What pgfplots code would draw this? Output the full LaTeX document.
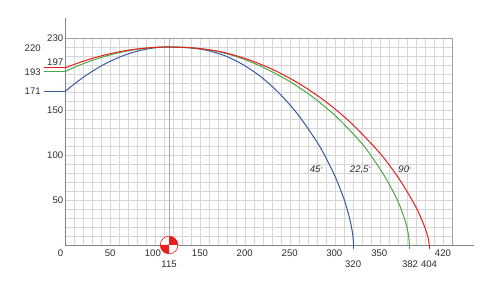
\documentclass[border=0pt]{standalone}
\usepackage{pgfplots}
\pgfplotsset{compat=1.18}
\usepackage{fontspec}
\setmainfont{Liberation Sans}
\definecolor{cblue}{RGB}{58,88,168}
\definecolor{cgreen}{RGB}{76,168,68}
\definecolor{cred}{RGB}{232,30,30}
\definecolor{axisgray}{RGB}{128,132,148}
\definecolor{bordergray}{RGB}{160,160,160}
\definecolor{gridgray}{RGB}{214,214,214}
\definecolor{txt}{RGB}{45,45,45}
\tikzset{xl/.style={txt, inner sep=0pt}, yl/.style={txt, inner sep=0pt, anchor=east}}
\pgfdeclareplotmark{cog}{%
  \pgfsetfillcolor{white}\pgfsetstrokecolor{cred}\pgfsetlinewidth{0.6bp}%
  \pgfpathcircle{\pgfpointorigin}{8.8bp}\pgfusepath{fill,stroke}%
  \pgfsetfillcolor{cred}%
  \pgfpathmoveto{\pgfpointorigin}\pgfpathlineto{\pgfpoint{8.8bp}{0bp}}%
  \pgfpatharc{0}{90}{8.8bp}\pgfpathclose\pgfusepath{fill}%
  \pgfpathmoveto{\pgfpointorigin}\pgfpathlineto{\pgfpoint{-8.8bp}{0bp}}%
  \pgfpatharc{180}{270}{8.8bp}\pgfpathclose\pgfusepath{fill}%
}
\begin{document}
\fontsize{9.6}{11}\selectfont
\begin{tikzpicture}
\path[use as bounding box] (-65.6bp,-39bp) rectangle (422.4bp,245bp);
\begin{axis}[
  x=0.9bp, y=0.9bp,
  xmin=0, xmax=430, ymin=0, ymax=230,
  clip=false,
  xtick={0,10,...,430}, ytick={0,10,...,230},
  xticklabels={}, yticklabels={},
  major tick length=0pt,
  grid=major,
  grid style={gridgray, line width=0.6bp},
  axis line style={bordergray, line width=0.8bp},
  every axis plot/.append style={line width=1bp},
]
% darker grid line at 115
\draw[gray!65, line width=0.7bp] (axis cs:115,0) -- (axis cs:115,230);
% main axis lines
\draw[axisgray, line width=0.9bp] (axis cs:0,252) -- (axis cs:0,0) -- (axis cs:454,0);

% blue 45
\addplot[cblue] coordinates {(-24,171)(0,171)};
\addplot[cblue, smooth] coordinates {
(0,171)(10,179.15)(20,186.56)(30,193.23)(40,199.16)(50,204.35)(60,208.79)(70,212.50)(80,215.46)(90,217.68)(100,219.17)(110,219.91)(115,220)
(135.5,219.3)(156,216.5)(176.5,210.5)(197,200.5)(217.5,186.5)(238,168)(258.5,144.5)(279,115)(289.25,97)(299.5,76)(309.75,50)(315.9,28)(318.98,12)(320,0)};
\addplot[cblue] coordinates {(320,0)(320,-4)};
% green 22.5
\addplot[cgreen] coordinates {(-24,193)(0,193)};
\addplot[cgreen, smooth] coordinates {
(0,193)(10,197.49)(20,201.58)(30,205.25)(40,208.52)(50,211.37)(60,213.83)(70,215.87)(80,217.50)(90,218.72)(100,219.54)(110,219.95)(115,220)
(141.7,219.0)(168.4,215.2)(195.1,207.6)(221.8,196.3)(248.5,182)(275.2,164)(301.9,141.5)(328.6,113.5)(341.95,95.5)(355.3,75)(368.65,50)(376.66,29)(380.67,13)(382,0)};
\addplot[cgreen] coordinates {(382,0)(382,-4)};
% red 90
\addplot[cred] coordinates {(-24,197)(0,197)};
\addplot[cred, smooth] coordinates {
(0,197)(10,200.83)(20,204.30)(30,207.44)(40,210.22)(50,212.65)(60,214.74)(70,216.48)(80,217.87)(90,218.91)(100,219.61)(110,219.96)(115,220)
(143.9,218.8)(172.8,214.6)(201.7,206.5)(230.6,194.8)(259.5,179.3)(288.4,159.8)(317.3,135.5)(346.2,105.5)(360.65,87.5)(375.1,66.5)(389.55,41.5)(398.22,22)(402.56,9)(404,0)};
\addplot[cred] coordinates {(404,0)(404,-4)};
% centre of gravity mark
\addplot[only marks, mark=cog] coordinates {(115,0)};

% curve labels
\node[txt, font=\itshape] at (axis cs:278.6,84) {45{\fontsize{5.5}{5}\selectfont\raisebox{0.55ex}{°}}};
\node[txt, font=\itshape] at (axis cs:327.5,84) {22,5{\fontsize{5.5}{5}\selectfont\raisebox{0.55ex}{°}}};
\node[txt, font=\itshape] at (axis cs:377,84) {90{\fontsize{5.5}{5}\selectfont\raisebox{0.55ex}{°}}};

% x labels, first row
\node[xl] at (axis cs:-5.5,-8.9) {0};
\node[xl] at (axis cs:49.5,-8.9) {50};
\node[xl] at (axis cs:97,-8.9) {100};
\node[xl] at (axis cs:149.3,-8.9) {150};
\node[xl] at (axis cs:199,-8.9) {200};
\node[xl] at (axis cs:249,-8.9) {250};
\node[xl] at (axis cs:298.6,-8.9) {300};
\node[xl] at (axis cs:348.6,-8.9) {350};
\node[xl] at (axis cs:419.3,-8.9) {420};
% x labels, second row
\node[xl] at (axis cs:115,-21.3) {115};
\node[xl] at (axis cs:319.5,-21.3) {320};
\node[xl] at (axis cs:382.7,-21.3) {382};
\node[xl] at (axis cs:403.8,-21.3) {404};
% y labels
\node[yl] at (axis cs:-2.5,50) {50};
\node[yl] at (axis cs:-2.5,100) {100};
\node[yl] at (axis cs:-2.5,149.5) {150};
\node[yl] at (axis cs:-2.5,229.7) {230};
\node[yl] at (axis cs:-2.5,203.5) {197};
\node[yl] at (axis cs:-27.5,219.2) {220};
\node[yl] at (axis cs:-27.5,192) {193};
\node[yl] at (axis cs:-27.5,171) {171};
\end{axis}
\end{tikzpicture}
\end{document}
